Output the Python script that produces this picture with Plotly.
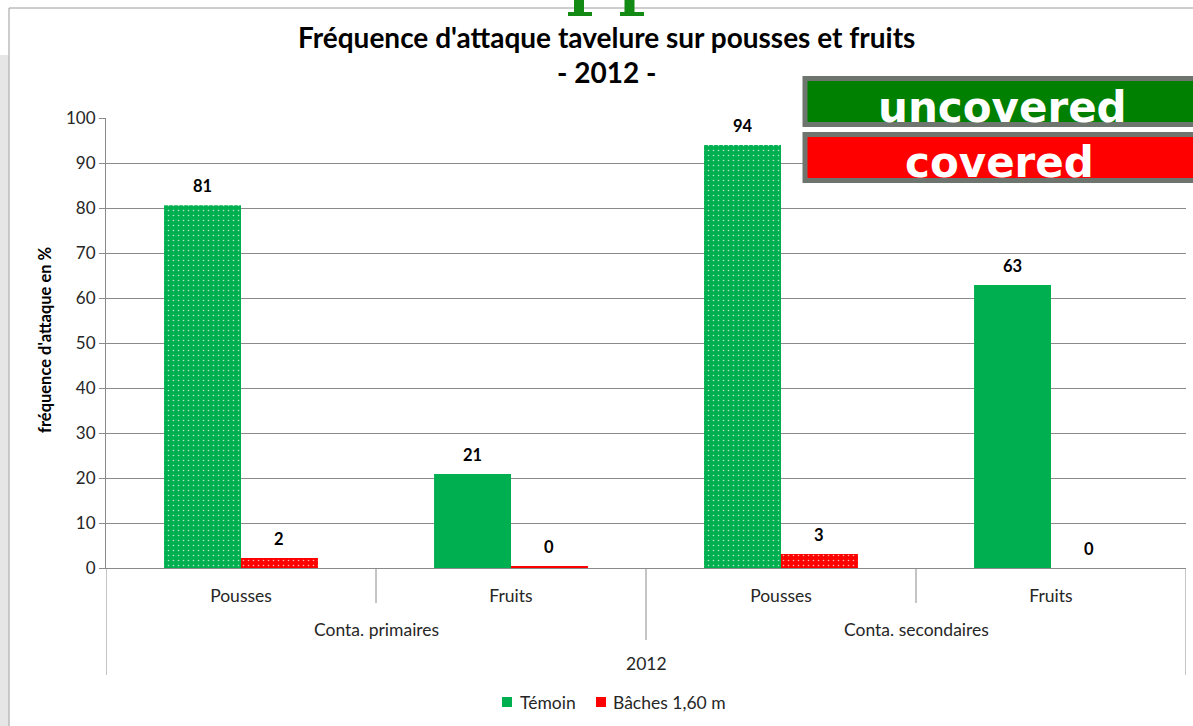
import plotly.graph_objects as go

# data
categories = ["Pousses", "Fruits", "Pousses", "Fruits"]
groups = ["Conta. primaires", "Conta. primaires", "Conta. secondaires", "Conta. secondaires"]
year = "2012"
series_names = ["Témoin", "Bâches 1,60 m"]
temoin = [80.6, 20.9, 94.0, 62.9]
baches = [2.2, 0.4, 3.1, 0.0]
patterns = [".", "", ".", ""]

GREEN = "#00B050"
RED = "#FF0000"
GRID = "#8a8a8a"
FONT = "Lato"
BARGAP = 0.43

# plot area in pixels, to place decorations
L, R, T, B = 106, 1186, 118, 568


def px_x(x):
    return (x - L) / (R - L)


def px_y(y):
    return (B - y) / (B - T)


xpos = list(range(len(categories)))
series = [temoin, baches]
colors = [GREEN, RED]

fig = go.Figure()
for name, vals, col in zip(series_names, series, colors):
    fig.add_trace(go.Bar(
        x=xpos, y=vals, name=name, showlegend=False,
        marker=dict(color=col, line_width=0,
                    pattern=dict(shape=patterns, fgcolor="white", fgopacity=0.7,
                                 size=5, solidity=0.08)),
        cliponaxis=False,
    ))

ann = []
# value labels above the bars
slot = (1 - BARGAP) / len(series)
for k, vals in enumerate(series):
    off = (k - (len(series) - 1) / 2) * slot
    for i, v in enumerate(vals):
        ann.append(dict(text=f"<b>{v:.0f}</b>", xref="x", yref="y", x=i + off, y=v,
                        yshift=19, font=dict(size=16.5, color="black")))

shapes = []
# outer chart frame and window background strip
shapes.append(dict(type="rect", xref="paper", yref="paper", layer="below",
                   x0=px_x(-2), x1=px_x(8.5), y0=px_y(55), y1=px_y(740),
                   fillcolor="#e6e6e6", line_width=0))
shapes.append(dict(type="rect", xref="paper", yref="paper", layer="below",
                   x0=px_x(9), x1=px_x(1210), y0=px_y(8), y1=px_y(760),
                   line=dict(color="#9a9a9a", width=1)))
# green glyph bottoms cut off at the top
for sx, fx in [(579, 580), (629.5, 632)]:
    shapes.append(dict(type="rect", xref="paper", yref="paper",
                       x0=px_x(sx - 5), x1=px_x(sx + 5), y0=px_y(-2), y1=px_y(13),
                       fillcolor="#138a13", line_width=0))
    shapes.append(dict(type="rect", xref="paper", yref="paper",
                       x0=px_x(fx - 12), x1=px_x(fx + 12), y0=px_y(12), y1=px_y(16),
                       fillcolor="#138a13", line_width=0))
# category dividers below axis
div_ends = {-0.5: 675, 0.5: 603, 1.5: 640, 2.5: 603, 3.5: 675}
for dx, end in div_ends.items():
    shapes.append(dict(type="line", xref="x", yref="paper", x0=dx, x1=dx,
                       y0=0, y1=px_y(end), line=dict(color=GRID, width=1)))
# uncovered / covered boxes
for y0, y1, col in [(78.5, 124.5, "#008000"), (134.5, 180.5, RED)]:
    shapes.append(dict(type="rect", xref="paper", yref="paper",
                       x0=px_x(805), x1=px_x(1215), y0=px_y(y1), y1=px_y(y0),
                       fillcolor=col, line=dict(color="#6e756e", width=5)))
# legend at the bottom
for (sx, tx), name, col in zip([(502, 518), (596, 611)], series_names, colors):
    shapes.append(dict(type="rect", xref="paper", yref="paper",
                       x0=px_x(sx), x1=px_x(sx + 10), y0=px_y(707), y1=px_y(697),
                       fillcolor=col, line_width=0))
    ann.append(dict(text=name, x=px_x(tx), y=px_y(702), xanchor="left",
                    font=dict(size=17.5, color="#262626")))

ann.append(dict(text="<b>Fréquence d'attaque tavelure sur pousses et fruits</b>",
                x=px_x(606), y=px_y(37), font=dict(size=28, color="black")))
ann.append(dict(text="<b>- 2012 -</b>", x=px_x(606), y=px_y(72),
                font=dict(size=28, color="black")))
ann.append(dict(text="<b>fréquence d'attaque en %</b>", x=px_x(45), y=px_y(340),
                textangle=-90, font=dict(size=16.5, color="black")))
for g in dict.fromkeys(groups):
    idx = [i for i, v in enumerate(groups) if v == g]
    ann.append(dict(text=g, xref="x", x=sum(idx) / len(idx), y=px_y(629),
                    font=dict(size=17.5, color="#262626")))
ann.append(dict(text=year, xref="x", x=(len(categories) - 1) / 2, y=px_y(663),
                font=dict(size=17.5, color="#262626")))
ann.append(dict(text="uncovered", x=px_x(1002), y=px_y(107.5),
                font=dict(size=42, color="white", family="DejaVu Sans", weight="bold")))
ann.append(dict(text="covered", x=px_x(1000), y=px_y(162.5),
                font=dict(size=42, color="white", family="DejaVu Sans", weight="bold")))
for a in ann:
    a.setdefault("xref", "paper")
    a.setdefault("yref", "paper")
    a.setdefault("xanchor", "center")
    a.update(showarrow=False, yanchor="middle")

fig.update_layout(
    width=1193, height=726,
    margin=dict(l=L, r=1193 - R, t=T, b=726 - B, autoexpand=False),
    paper_bgcolor="white", plot_bgcolor="white",
    font=dict(family=FONT, color="#262626"),
    barmode="group", bargap=BARGAP, bargroupgap=0,
    showlegend=False,
    shapes=shapes, annotations=ann,
)
fig.update_yaxes(range=[0, 100], dtick=10, showgrid=True, gridcolor=GRID, gridwidth=1,
                 showline=True, linecolor=GRID, ticks="outside", ticklen=6,
                 tickcolor=GRID, zeroline=False, tickfont=dict(size=17))
fig.update_xaxes(range=[-0.5, 3.5], tickvals=xpos, ticktext=categories, ticks="",
                 showline=True, linecolor=GRID, showgrid=False, zeroline=False,
                 ticklabelstandoff=12, tickfont=dict(size=17.5))

fig.write_html("out.html", config={"displayModeBar": False},
               post_script="document.body.style.margin='0';")
